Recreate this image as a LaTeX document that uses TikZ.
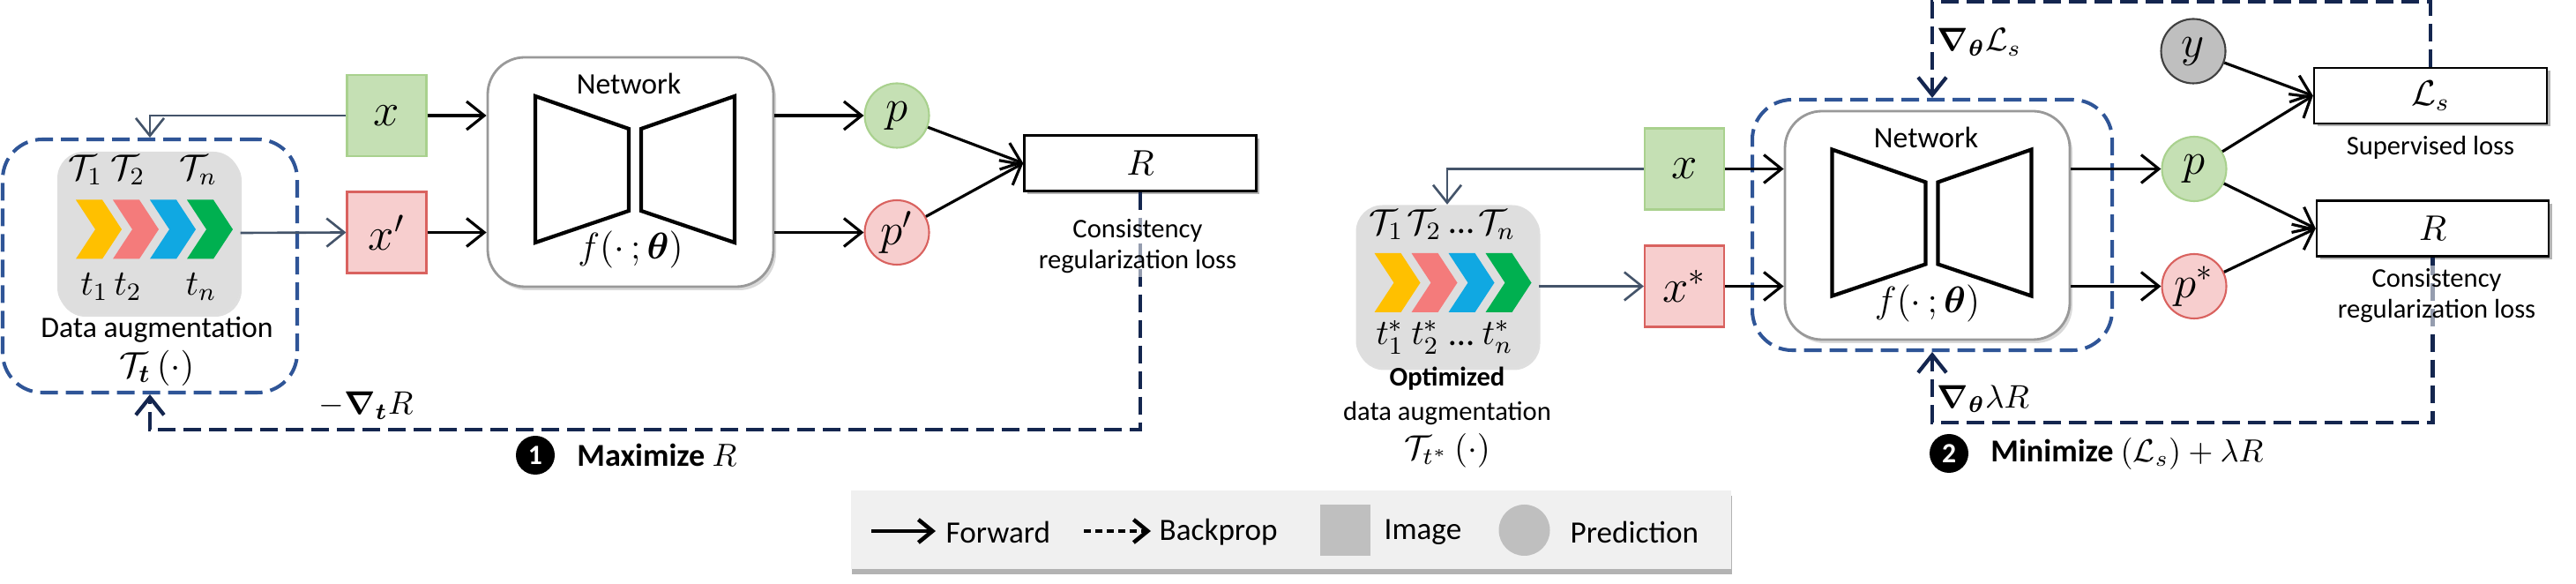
\RequirePackage{fix-cm}
\documentclass[tikz,border=0pt]{standalone}
\usepackage{amsmath,bm}
\usepackage[no-math]{fontspec}
\setmainfont{Carlito}
\usetikzlibrary{arrows.meta,shadows,positioning}

\definecolor{imgGreen}{HTML}{C5E0B4}
\definecolor{imgGreenLine}{HTML}{A9D18E}
\definecolor{imgRed}{HTML}{F7CECE}
\definecolor{imgRedLine}{HTML}{D9625F}
\definecolor{predGray}{HTML}{BFBFBF}
\definecolor{augGray}{HTML}{DEDEDE}
\definecolor{chevY}{HTML}{FFC000}
\definecolor{chevR}{HTML}{F47B7B}
\definecolor{chevB}{HTML}{10A8E2}
\definecolor{chevG}{HTML}{00B050}
\definecolor{dashBlue}{HTML}{2F5597}
\definecolor{navy}{HTML}{14264F}
\definecolor{slate}{HTML}{44546A}
\definecolor{legendGray}{HTML}{F0F0F0}

\begin{document}
\begin{tikzpicture}[
    img/.style={rectangle, draw, line width=0.6pt, minimum width=0.9cm, minimum height=0.92cm, inner sep=0pt, font=\fontsize{15}{17}\selectfont},
    pred/.style={circle, draw, line width=0.6pt, minimum size=0.73cm, inner sep=0pt, font=\fontsize{14.5}{16}\selectfont},
    netbox/.style={rectangle, draw=black!40, line width=0.8pt, fill=white, rounded corners=0.42cm, minimum width=3.24cm, minimum height=2.6cm, drop shadow={shadow xshift=0.03cm, shadow yshift=-0.04cm, opacity=0.3}},
    trap/.style={line width=1.2pt, line join=miter},
    augbox/.style={rectangle, fill=augGray, rounded corners=0.3cm, minimum width=2.07cm, minimum height=1.84cm, drop shadow={shadow xshift=0.02cm, shadow yshift=-0.03cm, opacity=0.25}},
    dashbox/.style={rectangle, draw=dashBlue, line width=1.15pt, dash pattern=on 0.2cm off 0.09cm, rounded corners=0.45cm},
    lossbox/.style={rectangle, draw, line width=0.7pt, fill=white, minimum width=2.63cm, minimum height=0.63cm, inner sep=0pt, font=\fontsize{11.5}{13}\selectfont, drop shadow={shadow xshift=0.035cm, shadow yshift=-0.035cm, opacity=0.6}},
    badge/.style={circle, fill=black, text=white, minimum size=0.44cm, inner sep=0pt, font=\fontsize{9}{10}\selectfont\bfseries},
    fwd/.style={-{Straight Barb[length=2mm, width=3.2mm]}, line width=0.9pt},
    feed/.style={-{Straight Barb[length=2mm, width=3.2mm]}, draw=slate, line width=0.75pt},
    backprop/.style={-{Straight Barb[length=2mm, width=3.2mm]}, draw=navy, line width=1.2pt, dash pattern=on 0.2cm off 0.09cm},
    aug/.style={font=\fontsize{11.5}{13}\selectfont, inner sep=0pt},
    caption/.style={font=\fontsize{8.7}{10}\selectfont, align=center, inner sep=1pt},
    netlabel/.style={font=\fontsize{9.6}{11}\selectfont, inner sep=0pt}
]
    \useasboundingbox (0,0) rectangle (29.21,-6.62);

    % ---------------- Step 1: maximize R ----------------
    \node[dashbox, minimum width=3.34cm, minimum height=2.87cm] (dash1) at (1.70,-3.015) {};
    \node[augbox] (aug1) at (1.685,-2.64) {};
    \begin{scope}[shift={(aug1.center)}]
        \foreach \col [count=\i from 0] in {chevY,chevR,chevB,chevG}
            \fill[\col] ({-0.825+0.42*\i},0.375) -- ++(0.30,0) -- ++(0.22,-0.335) -- ++(-0.22,-0.335) -- ++(-0.30,0) -- ++(0.22,0.335) -- cycle;
    \end{scope}
    \node[aug] (T11) at (0.97,-1.93) {$\mathcal{T}_1$};
    \node[aug] (T12) at (1.45,-1.93) {$\mathcal{T}_2$};
    \node[aug] (T1n) at (2.25,-1.93) {$\mathcal{T}_n$};
    \node[aug] (t11) at (1.07,-3.25) {$t_1$};
    \node[aug] (t12) at (1.45,-3.25) {$t_2$};
    \node[aug] (t1n) at (2.28,-3.25) {$t_n$};
    \node[font=\fontsize{9.6}{12}\selectfont, inner sep=0pt] (aug1txt) at (1.78,-3.74) {Data augmentation};
    \node[font=\fontsize{11.5}{13}\selectfont, inner sep=0pt] (aug1fn) at (1.78,-4.17) {$\mathcal{T}_{\bm{t}}\,(\cdot)$};

    \node[img, fill=imgGreen, draw=imgGreenLine] (x1) at (4.385,-1.31) {$x$};
    \node[img, fill=imgRed, draw=imgRedLine] (xp1) at (4.385,-2.635) {$x'$};

    \node[netbox] (net1) at (7.15,-1.95) {};
    \begin{scope}[shift={(net1.center)}]
        \draw[trap] (-1.08,0.86) -- (-0.02,0.49) -- (-0.02,-0.44) -- (-1.08,-0.80) -- cycle;
        \draw[trap] (0.12,0.49) -- (1.18,0.86) -- (1.18,-0.80) -- (0.12,-0.44) -- cycle;
    \end{scope}
    \node[netlabel] (net1lbl) at (7.13,-0.95) {Network};
    \node[font=\fontsize{12}{13}\selectfont, inner sep=0pt] (f1) at (7.15,-2.83) {$f(\cdot\,;\bm{\theta})$};

    \node[pred, fill=imgGreen, draw=imgGreenLine] (p1) at (10.17,-1.31) {$p$};
    \node[pred, fill=imgRed, draw=imgRedLine] (pp1) at (10.17,-2.635) {$p'$};
    \node[lossbox] (R1) at (12.93,-1.85) {$R$};

    \draw[feed] (x1.west) -| (dash1.north);
    \draw[feed] (aug1.east) -- (xp1.west);
    \draw[fwd] (x1.east) -- (x1.east -| net1.west);
    \draw[fwd] (xp1.east) -- (xp1.east -| net1.west);
    \draw[fwd] (p1.west -| net1.east) -- (p1.west);
    \draw[fwd] (pp1.west -| net1.east) -- (pp1.west);
    \draw[fwd] (p1) -- (R1.west);
    \draw[fwd] (pp1) -- (R1.west);
    \draw[backprop] (R1.south) -- ++(0,-2.69) -| (dash1.south);

    \node[caption, fill=white, fill opacity=0.55, text opacity=1] (R1txt) at (12.90,-2.795) {Consistency\\regularization loss};
    \node[font=\fontsize{10.5}{12}\selectfont, inner sep=0pt] (grad1) at (4.15,-4.60) {$-\bm{\nabla}_{\bm{t}}R$};
    \node[badge] (one) at (6.07,-5.16) {1};
    \node[right=0.24cm of one, font=\fontsize{10.3}{12}\selectfont, inner sep=0pt] (max) {\textbf{Maximize} $R$};

    % ---------------- Step 2: minimize L_s + lambda R ----------------
    \node[augbox] (aug2) at (16.41,-3.245) {};
    \begin{scope}[shift={(aug2.center)}]
        \foreach \col [count=\i from 0] in {chevY,chevR,chevB,chevG}
            \fill[\col] ({-0.825+0.42*\i},0.375) -- ++(0.30,0) -- ++(0.22,-0.335) -- ++(-0.22,-0.335) -- ++(-0.30,0) -- ++(0.22,0.335) -- cycle;
    \end{scope}
    \node[aug] (T21) at (15.72,-2.55) {$\mathcal{T}_1$};
    \node[aug] (T22) at (16.15,-2.55) {$\mathcal{T}_2$};
    \node[aug] (T2d) at (16.57,-2.62) {\dots};
    \node[aug] (T2n) at (16.97,-2.55) {$\mathcal{T}_n$};
    \node[aug] (t21) at (15.76,-3.82) {$t_1^*$};
    \node[aug] (t22) at (16.16,-3.82) {$t_2^*$};
    \node[aug] (t2d) at (16.57,-3.89) {\dots};
    \node[aug] (t2n) at (16.98,-3.82) {$t_n^*$};
    \node[font=\fontsize{8.7}{11}\selectfont, align=center, inner sep=0pt] (aug2txt) at (16.41,-4.49)
        {\textbf{Optimized}\\data augmentation};
    \node[font=\fontsize{11}{12}\selectfont, inner sep=0pt] (aug2fn) at (16.41,-5.11) {$\mathcal{T}_{t^*}\,(\cdot)$};

    \node[img, fill=imgGreen, draw=imgGreenLine] (x2) at (19.10,-1.915) {$x$};
    \node[img, fill=imgRed, draw=imgRedLine] (xs2) at (19.10,-3.245) {$x^*$};

    \node[dashbox, minimum width=4.08cm, minimum height=2.84cm] (dash2) at (21.91,-2.55) {};
    \node[netbox, minimum width=3.23cm, minimum height=2.59cm] (net2) at (21.855,-2.555) {};
    \begin{scope}[shift={(net2.center)}]
        \draw[trap] (-1.08,0.86) -- (-0.02,0.49) -- (-0.02,-0.44) -- (-1.08,-0.80) -- cycle;
        \draw[trap] (0.12,0.49) -- (1.18,0.86) -- (1.18,-0.80) -- (0.12,-0.44) -- cycle;
    \end{scope}
    \node[netlabel] (net2lbl) at (21.84,-1.555) {Network};
    \node[font=\fontsize{12}{13}\selectfont, inner sep=0pt] (f2) at (21.855,-3.435) {$f(\cdot\,;\bm{\theta})$};

    \node[pred, fill=predGray, draw=black!75] (y2) at (24.87,-0.58) {$y$};
    \node[pred, fill=imgGreen, draw=imgGreenLine] (p2) at (24.88,-1.915) {$p$};
    \node[pred, fill=imgRed, draw=imgRedLine] (ps2) at (24.88,-3.245) {$p^*$};
    \node[lossbox, minimum width=2.64cm] (Ls) at (27.56,-1.085) {$\mathcal{L}_s$};
    \node[lossbox] (R2) at (27.585,-2.59) {$R$};

    \draw[feed] (x2.west) -| (aug2.north);
    \draw[feed] (aug2.east) -- (xs2.west);
    \draw[fwd] (x2.east) -- (x2.east -| net2.west);
    \draw[fwd] (xs2.east) -- (xs2.east -| net2.west);
    \draw[fwd] (p2.west -| net2.east) -- (p2.west);
    \draw[fwd] (ps2.west -| net2.east) -- (ps2.west);
    \draw[fwd] (y2) -- (Ls.west);
    \draw[fwd] (p2) -- (Ls.west);
    \draw[fwd] (p2) -- (R2.west);
    \draw[fwd] (ps2) -- (R2.west);
    \draw[backprop] (Ls.north) -- ++(0,0.74) -| (dash2.north);
    \draw[backprop] (R2.south) -- ++(0,-1.87) -| (dash2.south);

    \node[caption] (Lstxt) at (27.56,-1.67) {Supervised loss};
    \node[caption, fill=white, fill opacity=0.55, text opacity=1] (R2txt) at (27.63,-3.355) {Consistency\\regularization loss};
    \node[anchor=west, font=\fontsize{10.5}{12}\selectfont, inner sep=0pt] (grad2) at (21.96,-0.48) {$\bm{\nabla}_{\bm{\theta}}\mathcal{L}_s$};
    \node[anchor=west, font=\fontsize{10.5}{12}\selectfont, inner sep=0pt] (grad3) at (21.96,-4.52) {$\bm{\nabla}_{\bm{\theta}}\lambda R$};
    \node[badge] (two) at (22.10,-5.14) {2};
    \node[right=0.24cm of two, font=\fontsize{10.3}{12}\selectfont, inner sep=0pt] (min) {\textbf{Minimize} $(\mathcal{L}_s)+\lambda R$};

    % ---------------- Legend ----------------
    \node[fill=legendGray, minimum width=9.98cm, minimum height=0.89cm, drop shadow={shadow xshift=0.01cm, shadow yshift=-0.06cm, opacity=0.6}] (legend) at (14.64,-6.005) {};
    \coordinate (fwdA) at (9.88,-6.02);
    \coordinate (fwdB) at (10.61,-6.02);
    \coordinate (bpA) at (12.29,-6.02);
    \coordinate (bpB) at (13.05,-6.02);
    \draw[-{Straight Barb[length=1.6mm, width=2.6mm]}, line width=1.3pt] (fwdA) -- (fwdB);
    \draw[-{Straight Barb[length=1.6mm, width=2.6mm]}, line width=1.3pt, dash pattern=on 0.08cm off 0.05cm] (bpA) -- (bpB);
    \node[anchor=west, font=\fontsize{10}{12}\selectfont, inner sep=0pt] (legFwd) at (10.72,-6.03) {Forward};
    \node[anchor=west, font=\fontsize{10}{12}\selectfont, inner sep=0pt] (legBp) at (13.14,-6.03) {Backprop};
    \node[fill=predGray, minimum width=0.57cm, minimum height=0.58cm, inner sep=0pt] (legImg) at (15.255,-6.01) {};
    \node[anchor=west, font=\fontsize{10}{12}\selectfont, inner sep=0pt] (legImgTxt) at (15.69,-6.03) {Image};
    \node[circle, fill=predGray, minimum size=0.58cm, inner sep=0pt] (legPred) at (17.285,-6.01) {};
    \node[anchor=west, font=\fontsize{10}{12}\selectfont, inner sep=0pt] (legPredTxt) at (17.80,-6.03) {Prediction};
\end{tikzpicture}
\end{document}
